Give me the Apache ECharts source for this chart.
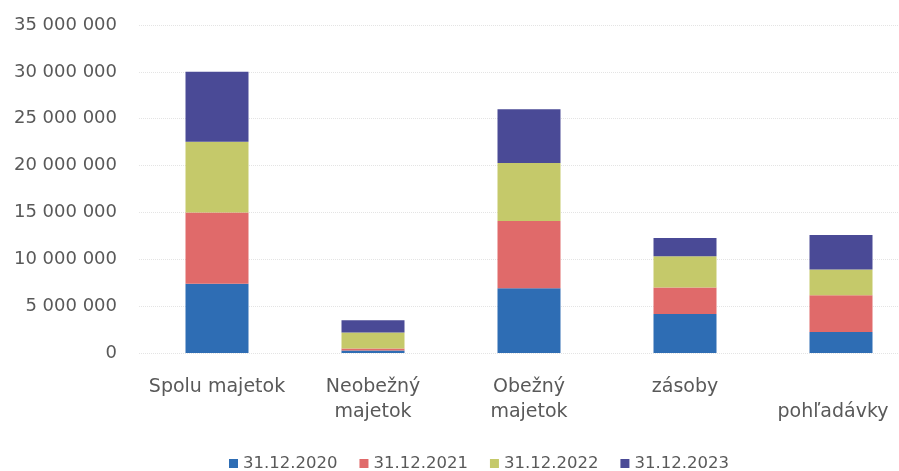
<!DOCTYPE html>
<html>
<head>
<meta charset="utf-8">
<script src="https://cdn.jsdelivr.net/npm/echarts@6/dist/echarts.min.js"></script>
<style>html,body{margin:0;padding:0;background:#fff;overflow:hidden;width:899px;height:471px;}#c{width:919px;height:471px;}</style>
</head>
<body>
<div id="c"></div>
<script>
const categories = ['Spolu majetok', 'Neobežný\nmajetok', 'Obežný\nmajetok', 'zásoby', 'pohľadávky'];
const seriesNames = ['31.12.2020', '31.12.2021', '31.12.2022', '31.12.2023'];
const v2020 = [7400000, 260000, 6900000, 4170000, 2240000];
const v2021 = [7600000, 210000, 7190000, 2810000, 3920000];
const v2022 = [7550000, 1710000, 6190000, 3340000, 2740000];
const v2023 = [7450000, 1310000, 5720000, 1960000, 3700000];
const colors = ['#2e6db4', '#e06a6a', '#c5c96a', '#4a4a96'];

const values = [v2020, v2021, v2022, v2023];
const font = '"DejaVu Sans", sans-serif';
const chart = echarts.init(document.getElementById('c'));
chart.setOption({
  animation: false,
  color: colors,
  grid: { left: 139, right: 0, top: 25, bottom: 118, containLabel: false },
  legend: {
    top: 450, left: 224,
    itemWidth: 9, itemHeight: 9, itemGap: 22,
    icon: 'rect',
    textStyle: { color: '#595959', fontSize: 16.5, fontFamily: font },
    data: seriesNames
  },
  xAxis: {
    type: 'category',
    data: categories,
    axisLine: { show: false },
    axisTick: { show: false },
    axisLabel: {
      color: '#595959', fontSize: 19, fontFamily: font, margin: 22, lineHeight: 25, interval: 0,
      formatter: (v, i) => i === 4 ? '{p|\n' + v + '}' : v,
      rich: { p: { color: '#595959', fontSize: 19, fontFamily: font, lineHeight: 25, padding: [0, 16, 0, 0] } }
    }
  },
  yAxis: {
    type: 'value',
    min: 0, max: 35000000, interval: 5000000,
    axisLine: { show: false },
    axisTick: { show: false },
    splitLine: { lineStyle: { color: '#e4e4e4', type: 'dotted', width: 1 } },
    axisLabel: {
      color: '#595959', fontSize: 18, fontFamily: font, margin: 22,
      formatter: v => v === 0 ? '0' : String(v).replace(/\B(?=(\d{3})+(?!\d))/g, ' ')
    }
  },
  series: seriesNames.map((n, i) => ({
    name: n, type: 'bar', stack: 'a', barWidth: 63,
    data: values[i]
  }))
});
</script>
</body>
</html>
